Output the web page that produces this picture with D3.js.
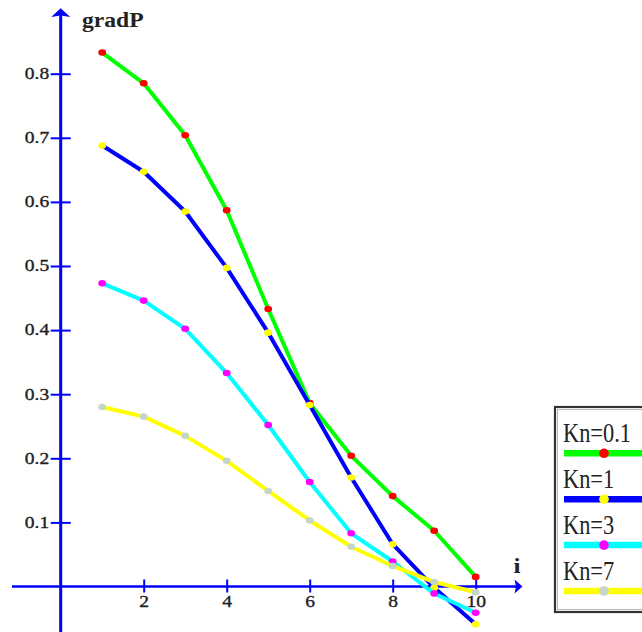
<!DOCTYPE html>
<html>
<head>
<meta charset="utf-8">
<script src="https://cdn.jsdelivr.net/npm/d3@7/dist/d3.min.js"></script>
<style>
  html, body { margin: 0; padding: 0; background: #fff; overflow: hidden; }
  svg { display: block; }
</style>
</head>
<body>
<svg id="chart" width="642" height="632"></svg>
<script>
// ---- data ----
const iValues = [1, 2, 3, 4, 5, 6, 7, 8, 9, 10];
const kn01 = [0.833, 0.785, 0.704, 0.587, 0.433, 0.286, 0.204, 0.141, 0.087, 0.015];
const kn1  = [0.688, 0.647, 0.585, 0.497, 0.396, 0.283, 0.170, 0.066, -0.002, -0.059];
const kn3  = [0.473, 0.446, 0.402, 0.333, 0.252, 0.163, 0.083, 0.039, -0.011, -0.041];
const kn7  = [0.280, 0.265, 0.235, 0.196, 0.149, 0.103, 0.062, 0.032, 0.007, -0.009];
const seriesNames = ["Kn=0.1", "Kn=1", "Kn=3", "Kn=7"];
const xTicks = [2, 4, 6, 8, 10];
const yTicks = [0.1, 0.2, 0.3, 0.4, 0.5, 0.6, 0.7, 0.8];
const yLabel = "gradP";
const xLabel = "i";

// ---- styling ----
const lineColors = ["#00ff00", "#0000ff", "#00ffff", "#ffff00"];
const markerColors = ["#ff0000", "#ffff00", "#ff00ff", "#c6d6c6"];
const axisColor = "#0000ff";
const textColor = "#222";
const serif = "'Liberation Serif', 'Times New Roman', serif";

const series = [kn01, kn1, kn3, kn7].map((vals, k) => ({
  name: seriesNames[k],
  line: lineColors[k],
  marker: markerColors[k],
  points: iValues.map((iv, j) => ({ i: iv, v: vals[j] }))
}));

const svg = d3.select("#chart");

const x = d3.scaleLinear().domain([0, 10]).range([60.7, 475.7]);
const y = d3.scaleLinear().domain([0, 0.8]).range([586.5, 73.7]);

// ---- axes lines with arrows ----
const ax0 = x(0), ay0 = y(0);
svg.append("line")
  .attr("x1", ax0).attr("x2", ax0)
  .attr("y1", 632).attr("y2", 14)
  .attr("stroke", axisColor).attr("stroke-width", 3);
svg.append("path")
  .attr("d", `M${ax0},8.3 L${ax0 + 9.5},17 L${ax0},15.5 L${ax0 - 9.5},17 Z`)
  .attr("fill", axisColor);

svg.append("line")
  .attr("x1", 12).attr("x2", 517)
  .attr("y1", ay0).attr("y2", ay0)
  .attr("stroke", axisColor).attr("stroke-width", 2.6);
svg.append("path")
  .attr("d", `M522.5,${ay0} L514.5,${ay0 - 7} L516,${ay0} L514.5,${ay0 + 7} Z`)
  .attr("fill", axisColor);

// ---- y axis ticks ----
const yAxis = d3.axisLeft(y).tickValues(yTicks).tickSize(10)
  .tickFormat(d3.format(".1f"));
const gy = svg.append("g").attr("transform", `translate(${ax0},0)`).call(yAxis);
gy.select(".domain").remove();
gy.selectAll(".tick line")
  .attr("x1", -10).attr("x2", 10)
  .attr("stroke", axisColor).attr("stroke-width", 2);
gy.selectAll(".tick text")
  .attr("x", null).attr("dy", null)
  .attr("transform", "translate(-11.5,4.8) scale(1.22,1)")
  .attr("text-anchor", "end")
  .attr("fill", textColor)
  .attr("stroke", textColor)
  .attr("stroke-width", 0.35)
  .style("font-family", serif)
  .style("font-size", "16px");

// ---- x axis ticks ----
const xAxis = d3.axisBottom(x).tickValues(xTicks).tickSize(6)
  .tickFormat(d3.format("d"));
const gx = svg.append("g").attr("transform", `translate(0,${ay0})`).call(xAxis);
gx.select(".domain").remove();
gx.selectAll(".tick line")
  .attr("y1", -7).attr("y2", 6)
  .attr("stroke", axisColor).attr("stroke-width", 2);
gx.selectAll(".tick text")
  .attr("y", null).attr("dy", null)
  .attr("transform", "translate(0,20.5) scale(1.22,1)")
  .attr("text-anchor", "middle")
  .attr("fill", textColor)
  .attr("stroke", textColor)
  .attr("stroke-width", 0.35)
  .style("font-family", serif)
  .style("font-size", "16px");

// ---- axis labels ----
svg.append("text")
  .attr("transform", "translate(82,27) scale(1.18,1)")
  .attr("fill", textColor)
  .style("font-family", serif)
  .style("font-weight", "bold")
  .style("font-size", "20px")
  .text(yLabel);
svg.append("text")
  .attr("transform", "translate(517,573) scale(1.2,1)")
  .attr("text-anchor", "middle")
  .attr("fill", textColor)
  .style("font-family", serif)
  .style("font-weight", "bold")
  .style("font-size", "21px")
  .text(xLabel);

// ---- series ----
const lineGen = d3.line()
  .x(d => x(d.i)).y(d => y(d.v))
  .curve(d3.curveLinear);

series.forEach(s => {
  const g = svg.append("g");
  g.append("path")
    .datum(s.points)
    .attr("d", lineGen)
    .attr("fill", "none")
    .attr("stroke", s.line)
    .attr("stroke-width", 4)
    .attr("stroke-linejoin", "round");
  g.selectAll("ellipse")
    .data(s.points)
    .join("ellipse")
    .attr("cx", d => x(d.i))
    .attr("cy", d => y(d.v))
    .attr("rx", 3.9)
    .attr("ry", 3.3)
    .attr("fill", s.marker);
});

// ---- legend ----
const legend = svg.append("g");
legend.append("rect")
  .attr("x", 555).attr("y", 407)
  .attr("width", 120).attr("height", 205)
  .attr("fill", "#fff")
  .attr("stroke", "#333")
  .attr("stroke-width", 2.2);
legend.append("rect")
  .attr("x", 557.5).attr("y", 409.5)
  .attr("width", 120).attr("height", 200)
  .attr("fill", "none")
  .attr("stroke", "#bbb")
  .attr("stroke-width", 1);

series.forEach((s, k) => {
  const ly = 453.3 + k * 45.9;
  legend.append("text")
    .attr("transform", `translate(563,${ly - 11}) scale(0.8,1)`)
    .attr("fill", textColor)
    .style("font-family", serif)
    .style("font-size", "28px")
    .text(s.name);
  legend.append("line")
    .attr("x1", 564).attr("x2", 650)
    .attr("y1", ly).attr("y2", ly)
    .attr("stroke", s.line)
    .attr("stroke-width", 6.5);
  legend.append("circle")
    .attr("cx", 604).attr("cy", ly)
    .attr("r", 4.8)
    .attr("fill", s.marker);
});
</script>
</body>
</html>
